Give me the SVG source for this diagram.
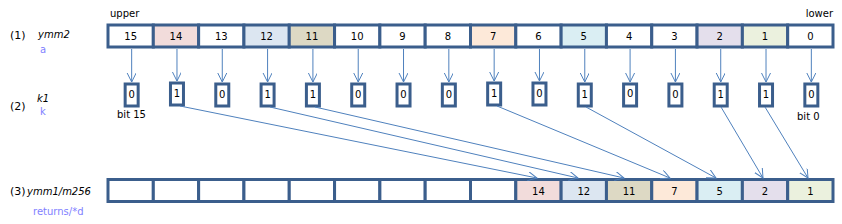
<svg xmlns="http://www.w3.org/2000/svg" width="842" height="224" viewBox="0 0 842 224">
<style>
text{font-family:"DejaVu Sans","Verdana",sans-serif;font-size:10px;fill:#000}
.c{text-anchor:middle}
.it{font-style:italic}
.p{fill:#7F7FFF}
.n{font-size:11px}
.cell{stroke:#3B5E8C;stroke-width:3;fill:#fff}
.bx{stroke:#3B5E8C;stroke-width:3;fill:#fff}
.ln{stroke:#4F81BD;stroke-width:1;fill:none;marker-end:url(#ah)}
.pk{fill:#F2DCDB}.bl{fill:#DCE6F1}.tn{fill:#DDD9C4}.pc{fill:#FDE9D9}.cy{fill:#DAEEF3}.lv{fill:#E4DFEC}.gr{fill:#EBF1DE}
</style>
<defs>
<marker id="ah" markerWidth="12" markerHeight="12" refX="9" refY="4.5" orient="auto" markerUnits="userSpaceOnUse">
<path d="M0,0 L9,4.5 L0,9" fill="none" stroke="#4F81BD" stroke-width="1"/>
</marker>
</defs>

<g id="labels">
<text x="110" y="17">upper</text>
<text x="833" y="17" text-anchor="end">lower</text>
<text x="10" y="39" class="n">(1)</text>
<text x="38" y="38" class="it">ymm2</text>
<text x="40" y="53" class="p">a</text>
<text x="37" y="102" class="it">k1</text>
<text x="10" y="110" class="n">(2)</text>
<text x="40" y="115" class="p">k</text>
<text x="117" y="118">bit 15</text>
<text x="797" y="120">bit 0</text>
<text x="10" y="195" class="n">(3)</text>
<text x="27" y="195" class="it">ymm1/m256</text>
<text x="33" y="215" class="p">returns/*d</text>
</g>

<g id="ymm2">
<g id="a15"><rect class="cell" x="108" y="25" width="45.31" height="22"/><text class="c" x="130.66" y="40">15</text></g>
<g id="a14"><rect class="cell pk" x="153.31" y="25" width="45.31" height="22"/><text class="c" x="175.97" y="40">14</text></g>
<g id="a13"><rect class="cell" x="198.63" y="25" width="45.31" height="22"/><text class="c" x="221.28" y="40">13</text></g>
<g id="a12"><rect class="cell bl" x="243.94" y="25" width="45.31" height="22"/><text class="c" x="266.59" y="40">12</text></g>
<g id="a11"><rect class="cell tn" x="289.25" y="25" width="45.31" height="22"/><text class="c" x="311.91" y="40">11</text></g>
<g id="a10"><rect class="cell" x="334.56" y="25" width="45.31" height="22"/><text class="c" x="357.22" y="40">10</text></g>
<g id="a9"><rect class="cell" x="379.88" y="25" width="45.31" height="22"/><text class="c" x="402.53" y="40">9</text></g>
<g id="a8"><rect class="cell" x="425.19" y="25" width="45.31" height="22"/><text class="c" x="447.84" y="40">8</text></g>
<g id="a7"><rect class="cell pc" x="470.5" y="25" width="45.31" height="22"/><text class="c" x="493.16" y="40">7</text></g>
<g id="a6"><rect class="cell" x="515.81" y="25" width="45.31" height="22"/><text class="c" x="538.47" y="40">6</text></g>
<g id="a5"><rect class="cell cy" x="561.13" y="25" width="45.31" height="22"/><text class="c" x="583.78" y="40">5</text></g>
<g id="a4"><rect class="cell" x="606.44" y="25" width="45.31" height="22"/><text class="c" x="629.09" y="40">4</text></g>
<g id="a3"><rect class="cell" x="651.75" y="25" width="45.31" height="22"/><text class="c" x="674.41" y="40">3</text></g>
<g id="a2"><rect class="cell lv" x="697.06" y="25" width="45.31" height="22"/><text class="c" x="719.72" y="40">2</text></g>
<g id="a1"><rect class="cell gr" x="742.38" y="25" width="45.31" height="22"/><text class="c" x="765.03" y="40">1</text></g>
<g id="a0"><rect class="cell" x="787.69" y="25" width="45.31" height="22"/><text class="c" x="810.34" y="40">0</text></g>
</g>

<g id="k1">
<g id="k15"><rect class="bx" x="125.16" y="84" width="13" height="22"/><text class="c" x="131.66" y="98">0</text></g>
<g id="k14"><rect class="bx" x="170.47" y="83" width="13" height="22"/><text class="c" x="176.97" y="97">1</text></g>
<g id="k13"><rect class="bx" x="215.78" y="84" width="13" height="22"/><text class="c" x="222.28" y="98">0</text></g>
<g id="k12"><rect class="bx" x="261.09" y="84" width="13" height="22"/><text class="c" x="267.59" y="98">1</text></g>
<g id="k11"><rect class="bx" x="306.41" y="84" width="13" height="22"/><text class="c" x="312.91" y="98">1</text></g>
<g id="k10"><rect class="bx" x="351.72" y="84" width="13" height="22"/><text class="c" x="358.22" y="98">0</text></g>
<g id="k9"><rect class="bx" x="397.03" y="84" width="13" height="22"/><text class="c" x="403.53" y="98">0</text></g>
<g id="k8"><rect class="bx" x="442.34" y="84" width="13" height="22"/><text class="c" x="448.84" y="98">0</text></g>
<g id="k7"><rect class="bx" x="487.66" y="83" width="13" height="22"/><text class="c" x="494.16" y="97">1</text></g>
<g id="k6"><rect class="bx" x="532.97" y="83" width="13" height="22"/><text class="c" x="539.47" y="97">0</text></g>
<g id="k5"><rect class="bx" x="578.28" y="84" width="13" height="22"/><text class="c" x="584.78" y="98">1</text></g>
<g id="k4"><rect class="bx" x="623.59" y="84" width="13" height="22"/><text class="c" x="630.09" y="97">0</text></g>
<g id="k3"><rect class="bx" x="668.91" y="84" width="13" height="22"/><text class="c" x="675.41" y="98">0</text></g>
<g id="k2"><rect class="bx" x="714.22" y="84" width="13" height="22"/><text class="c" x="720.72" y="98">1</text></g>
<g id="k1b"><rect class="bx" x="759.53" y="84" width="13" height="22"/><text class="c" x="766.03" y="98">1</text></g>
<g id="k0"><rect class="bx" x="804.84" y="84" width="13" height="22"/><text class="c" x="811.34" y="98">0</text></g>
</g>

<g id="ymm1">
<g id="d0"><rect class="cell" x="108" y="179.5" width="45.31" height="22"/></g>
<g id="d1"><rect class="cell" x="153.31" y="179.5" width="45.31" height="22"/></g>
<g id="d2"><rect class="cell" x="198.63" y="179.5" width="45.31" height="22"/></g>
<g id="d3"><rect class="cell" x="243.94" y="179.5" width="45.31" height="22"/></g>
<g id="d4"><rect class="cell" x="289.25" y="179.5" width="45.31" height="22"/></g>
<g id="d5"><rect class="cell" x="334.56" y="179.5" width="45.31" height="22"/></g>
<g id="d6"><rect class="cell" x="379.88" y="179.5" width="45.31" height="22"/></g>
<g id="d7"><rect class="cell" x="425.19" y="179.5" width="45.31" height="22"/></g>
<g id="d8"><rect class="cell" x="470.5" y="179.5" width="45.31" height="22"/></g>
<g id="d9"><rect class="cell pk" x="515.81" y="179.5" width="45.31" height="22"/><text class="c" x="538.47" y="195">14</text></g>
<g id="d10"><rect class="cell bl" x="561.13" y="179.5" width="45.31" height="22"/><text class="c" x="583.78" y="195">12</text></g>
<g id="d11"><rect class="cell tn" x="606.44" y="179.5" width="45.31" height="22"/><text class="c" x="629.09" y="195">11</text></g>
<g id="d12"><rect class="cell pc" x="651.75" y="179.5" width="45.31" height="22"/><text class="c" x="674.41" y="195">7</text></g>
<g id="d13"><rect class="cell cy" x="697.06" y="179.5" width="45.31" height="22"/><text class="c" x="719.72" y="195">5</text></g>
<g id="d14"><rect class="cell lv" x="742.38" y="179.5" width="45.31" height="22"/><text class="c" x="765.03" y="195">2</text></g>
<g id="d15"><rect class="cell gr" x="787.69" y="179.5" width="45.31" height="22"/><text class="c" x="810.34" y="195">1</text></g>
</g>

<g id="connectors">
<line class="ln" x1="131.66" y1="49" x2="131.66" y2="82"/>
<line class="ln" x1="176.97" y1="49" x2="176.97" y2="81"/>
<line class="ln" x1="222.28" y1="49" x2="222.28" y2="82"/>
<line class="ln" x1="267.59" y1="49" x2="267.59" y2="82"/>
<line class="ln" x1="312.91" y1="49" x2="312.91" y2="82"/>
<line class="ln" x1="358.22" y1="49" x2="358.22" y2="82"/>
<line class="ln" x1="403.53" y1="49" x2="403.53" y2="82"/>
<line class="ln" x1="448.84" y1="49" x2="448.84" y2="82"/>
<line class="ln" x1="494.16" y1="49" x2="494.16" y2="81"/>
<line class="ln" x1="539.47" y1="49" x2="539.47" y2="81"/>
<line class="ln" x1="584.78" y1="49" x2="584.78" y2="82"/>
<line class="ln" x1="630.09" y1="49" x2="630.09" y2="82"/>
<line class="ln" x1="675.41" y1="49" x2="675.41" y2="82"/>
<line class="ln" x1="720.72" y1="49" x2="720.72" y2="82"/>
<line class="ln" x1="766.03" y1="49" x2="766.03" y2="82"/>
<line class="ln" x1="811.34" y1="49" x2="811.34" y2="82"/>
<line class="ln" x1="180" y1="106" x2="537" y2="178"/>
<line class="ln" x1="270" y1="107" x2="578" y2="178"/>
<line class="ln" x1="315" y1="107" x2="624" y2="178"/>
<line class="ln" x1="497" y1="106" x2="670" y2="178"/>
<line class="ln" x1="586" y1="107" x2="716" y2="178"/>
<line class="ln" x1="721" y1="107" x2="763" y2="178"/>
<line class="ln" x1="765" y1="107" x2="808" y2="178"/>
</g>
</svg>
